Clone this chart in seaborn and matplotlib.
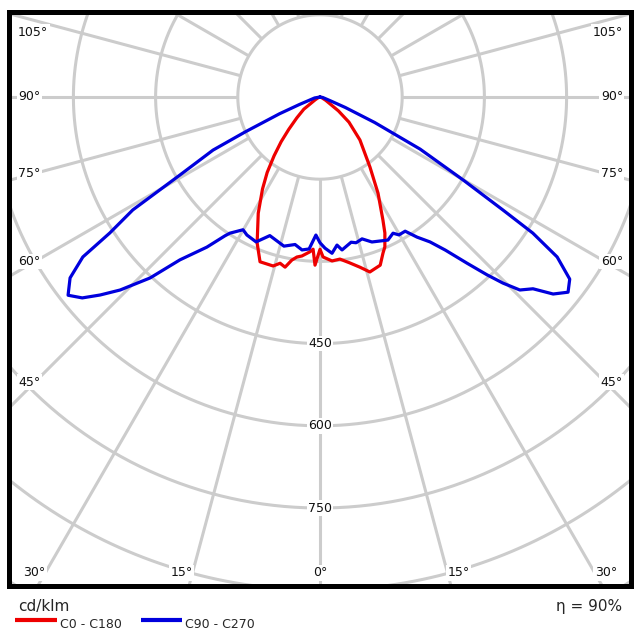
import numpy as np
import pandas as pd
import matplotlib.pyplot as plt
from matplotlib.lines import Line2D
import seaborn as sns

# --- Luminous intensity (cd/klm) ---
# gamma = angle from nadir (deg); each C-plane half drawn on its own side
gamma_c180 = [0, 1.7, 2.6, 3.7, 6.5, 8.2, 9.8, 11.6, 13.5, 15.5, 20, 23.3, 28, 32,
              35, 38, 41, 44, 48, 53, 60, 70, 90]
cd_c180 = [278, 307, 278, 283, 292, 295, 302, 317, 312, 320, 320, 290, 240, 198,
           168, 136, 108, 82, 57, 37, 10, 3, 0]

gamma_c0 = [0, 1.1, 4.2, 7, 10, 13.2, 15.9, 19.7, 22, 23.4, 25.5, 27.1, 31.1, 35.5,
            42.9, 49, 53, 60, 70, 90]
cd_c0 = [278, 292, 300, 298, 307, 319, 332, 326, 307, 298, 275, 252, 205, 157,
         107, 70, 42, 12, 3, 0]

gamma_c270 = [0, 1.7, 4.1, 6.7, 9.6, 13.6, 19.9, 23.8, 27.9, 30.1, 33.5, 34.4, 37,
              40.7, 43.2, 46, 48, 49.8, 51.8, 54.1, 56, 57.1, 58.9, 60.9, 63.6, 65,
              67.5, 70, 80, 90]
cd_c270 = [266, 252, 278, 281, 273, 280, 269, 289, 285, 280, 298, 307, 343,
           392, 453, 507, 540, 568, 585, 563, 522, 457, 399, 292, 218, 150,
           80, 40, 10, 0]

gamma_c90 = [0, 1.9, 4.4, 6.55, 8.2, 12.1, 13.9, 16.5, 19.7, 25.4, 28.2, 29.8, 32.4,
             34.7, 37.2, 39.3, 41.5, 43.2, 44.5, 46, 48, 49.8, 51.8, 53.9, 56, 57.4,
             58.3, 59.9, 62.5, 65, 67.5, 70, 80, 90]
cd_c90 = [266, 276, 286, 272, 282, 271, 274, 270, 281, 289, 282, 290, 290,
          311, 332, 361, 405, 445, 476, 507, 523, 557, 576, 564, 522, 461,
          392, 302, 206, 110, 50, 20, 5, 0]

series_names = ['C0 - C180', 'C90 - C270']
series_colors = ['#ee0000', '#0000dd']

ring_values = [150, 300, 450, 600, 750, 900, 1050, 1200]
ring_labels = [450, 600, 750]
spoke_angles = list(range(0, 360, 15))
side_angles = [105, 90, 75, 60, 45]
bottom_angles = [30, 15, 0]
unit_label = 'cd/klm'
efficiency = 90

# scale of the original drawing: pixels per cd/klm, and frame in data units
PX = 0.548
XMIN, XMAX = (9 - 320) / PX, (630.5 - 320) / PX
YMIN, YMAX = (97 - 585.5) / PX, (97 - 11.5) / PX


def half(gamma, cd, side):
    g = np.radians(gamma)
    r = np.asarray(cd, float)
    return side * r * np.sin(g), -r * np.cos(g)


def closed_curve(g_left, i_left, g_right, i_right):
    xl, yl = half(g_left, i_left, -1)
    xr, yr = half(g_right, i_right, 1)
    return np.r_[xl[::-1], xr], np.r_[yl[::-1], yr]


frames = []
for name, (gl, il, gr, ir) in zip(series_names,
                                  [(gamma_c180, cd_c180, gamma_c0, cd_c0),
                                   (gamma_c270, cd_c270, gamma_c90, cd_c90)]):
    x, y = closed_curve(gl, il, gr, ir)
    frames.append(pd.DataFrame({'x': x, 'y': y, 'plane': name}))
df = pd.concat(frames, ignore_index=True)

sns.set_style('white')
plt.rcParams['font.family'] = ['DejaVu Sans']

fig = plt.figure(figsize=(6.42, 6.36), dpi=100)
ax = fig.add_axes([9 / 642, 1 - 585.5 / 636, 621.5 / 642, 574 / 636])

grid_kw = dict(color='#cccccc', lw=2.2, zorder=1, solid_capstyle='butt')
t = np.linspace(0, 2 * np.pi, 721)
for r in ring_values:
    ax.plot(r * np.cos(t), r * np.sin(t), **grid_kw)
for a in spoke_angles:
    ar = np.radians(a)
    ax.plot([150 * np.sin(ar), 2000 * np.sin(ar)],
            [-150 * np.cos(ar), -2000 * np.cos(ar)], **grid_kw)

sns.lineplot(data=df, x='x', y='y', hue='plane', palette=dict(zip(series_names, series_colors)),
             sort=False, estimator=None, lw=2.3, legend=False, ax=ax, zorder=5)

lab_kw = dict(fontsize=9, va='center', zorder=4, color='#111111',
              bbox=dict(fc='white', ec='none', pad=1.0))

# angle labels on the sides of the frame
x_ref = (320 - 35) / PX
y_cap = (97 - 32) / PX
for a in side_angles:
    ar = np.radians(a)
    yy = min(-x_ref * np.cos(ar) / np.sin(ar), y_cap)
    ax.text((18 - 320) / PX, yy, f'{a}°', ha='left', **lab_kw)
    ax.text((623 - 320) / PX, yy, f'{a}°', ha='right', **lab_kw)

# angle labels along the bottom of the frame
y_bot = (97 - 573) / PX
for a in bottom_angles:
    xx = -y_bot * np.tan(np.radians(a))
    if a == 0:
        ax.text(0, y_bot, f'{a}°', ha='center', **lab_kw)
    else:
        ax.text(-xx, y_bot, f'{a}°', ha='right', **lab_kw)
        ax.text(xx, y_bot, f'{a}°', ha='left', **lab_kw)

for v in ring_labels:
    ax.text(0, -v, str(v), ha='center', **lab_kw)

ax.set_xlim(XMIN, XMAX)
ax.set_ylim(YMIN, YMAX)
ax.set_xticks([])
ax.set_yticks([])
ax.set_xlabel('')
ax.set_ylabel('')
for s in ax.spines.values():
    s.set_visible(True)
    s.set_color('black')
    s.set_linewidth(3.6)

# legend / footer below the frame
fig.text(18 / 642, 1 - 606 / 636, unit_label, fontsize=11, ha='left', va='center')
fig.text(622 / 642, 1 - 606 / 636, f'η = {efficiency}%', fontsize=11, ha='right', va='center')
for (x0, x1, xt), name, col in zip([(15, 57, 60), (141, 182, 185)], series_names, series_colors):
    fig.add_artist(Line2D([x0 / 642, x1 / 642], [1 - 620 / 636] * 2, color=col, lw=3,
                          solid_capstyle='butt'))
    fig.text(xt / 642, 1 - 625 / 636, name, fontsize=9, ha='left', va='center')

fig.savefig('out.png', dpi=100)
